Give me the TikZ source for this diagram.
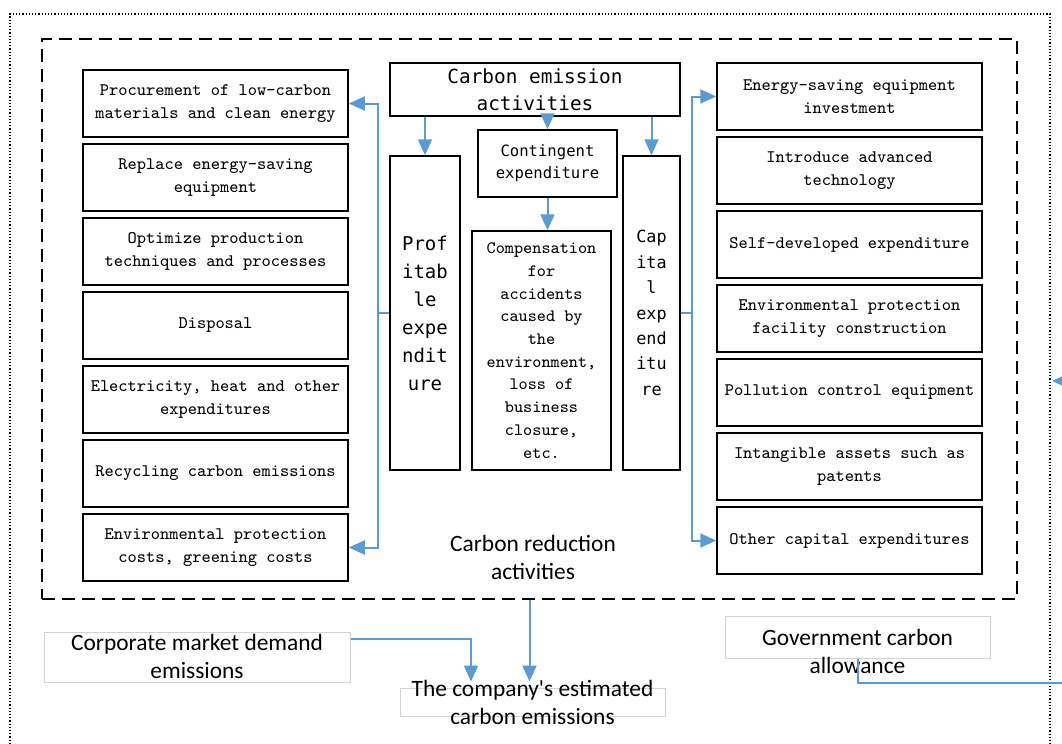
\documentclass[tikz,border=0pt]{standalone}
\usepackage{fontspec}
\usepackage{xcolor}
\usepackage{tikz}
\usetikzlibrary{arrows.meta,positioning}
\newfontfamily\monohei{DejaVu Sans Mono}
\newfontfamily\calib{Carlito}
\definecolor{linkblue}{RGB}{91,155,213}

\begin{document}
\begin{tikzpicture}[
            x = 0.5pt, y = -0.5pt,
            node distance = 2.75pt,
            item/.style = {draw, line width = 0.75pt, minimum width = 132.5pt, minimum height = 33.5pt,
                inner sep = 1pt, align = center, font = \ttfamily\fontsize{8.8}{11.5}\selectfont},
            heibox/.style = {draw, line width = 0.75pt, align = center, inner sep = 1pt},
            softbox/.style = {draw = gray!35, line width = 0.5pt},
            calitext/.style = {align = center, font = \calib\fontsize{11.7}{14}\selectfont},
            bluelink/.style = {draw = linkblue, line width = 1pt, -{Triangle[length = 8pt, width = 7pt]}},
            dashframe/.style = {draw, dash pattern = on 6.5pt off 3.5pt, line width = 0.8pt,
                minimum width = 487.5pt, minimum height = 280pt}]
            \useasboundingbox (0,0) rectangle (1062,744);
            \clip (0,0) rectangle (1062,744);
            % outer dotted border
            \draw[densely dotted, line width = 0.6pt] (10,760) -- (10,14) -- (1050,14) -- (1050,760);
            \node[dashframe] (reduce) at (529.5,319) {};
            % left column
            \node[item] (l1) at (215.5,103.5) {Procurement of low-carbon\\materials and clean energy};
            \node[item, below = of l1] (l2) {Replace energy-saving\\equipment};
            \node[item, below = of l2] (l3) {Optimize production\\techniques and processes};
            \node[item, below = of l3] (l4) {Disposal};
            \node[item, below = of l4] (l5) {Electricity, heat and other\\expenditures};
            \node[item, below = of l5] (l6) {Recycling carbon emissions};
            \node[item, below = of l6] (l7) {Environmental protection\\costs, greening costs};
            % right column
            \node[item] (r1) at (849.5,96.5) {Energy-saving equipment\\investment};
            \node[item, below = of r1] (r2) {Introduce advanced\\technology};
            \node[item, below = of r2] (r3) {Self-developed expenditure};
            \node[item, below = of r3] (r4) {Environmental protection\\facility construction};
            \node[item, below = of r4] (r5) {Pollution control equipment};
            \node[item, below = of r5] (r6) {Intangible assets such as\\patents};
            \node[item, below = of r6] (r7) {Other capital expenditures};
            % middle
            \node[heibox, minimum width = 145pt, minimum height = 26.5pt,
                font = \monohei\fontsize{9.7}{13.5}\selectfont] (emit) at (535,89.5) {Carbon emission\\activities};
            \node[heibox, minimum width = 35pt, minimum height = 157pt,
                font = \monohei\fontsize{9.5}{14}\selectfont] (profit) at (425,313) {Prof\\itab\\le\\expe\\ndit\\ure};
            \node[heibox, minimum width = 28.5pt, minimum height = 157pt,
                font = \monohei\fontsize{8.4}{12.7}\selectfont] (capex) at (651.5,313) {Cap\\ita\\l\\exp\\end\\itu\\re};
            \node[heibox, minimum width = 69.5pt, minimum height = 33.5pt,
                font = \monohei\fontsize{7.8}{11}\selectfont] (contin) at (547.5,163.5) {Contingent\\expenditure};
            \node[heibox, minimum width = 69.5pt, minimum height = 119.5pt,
                font = \ttfamily\fontsize{8.7}{11.35}\selectfont] (comp) at (541.5,350.5)
                {Compensation\\for\\accidents\\caused by\\the\\environment,\\loss of\\business\\closure,\\etc.};
            \node[calitext] (reducetxt) at (533,557) {Carbon reduction\\activities};
            % bottom
            \node[softbox, minimum width = 153pt, minimum height = 25pt] (market) at (197,657) {};
            \node[calitext] (markettxt) at (197,656) {Corporate market demand\\emissions};
            \node[softbox, minimum width = 132.5pt, minimum height = 14pt] (estim) at (532.5,702) {};
            \node[calitext] (estimtxt) at (532.5,702) {The company\textquotesingle s estimated\\carbon emissions};
            \node[softbox, minimum width = 132.5pt, minimum height = 21pt] (govt) at (857.5,637) {};
            \node[calitext] (govttxt) at (857.5,651) {Government carbon\\allowance};
            % connectors
            \draw[bluelink] (emit.south -| profit.north) -- (profit.north);
            \draw[bluelink] (emit.south -| contin.north) -- (contin.north);
            \draw[bluelink] (emit.south -| capex.north) -- (capex.north);
            \draw[bluelink] (contin.south) -- (contin.south |- comp.north);
            \coordinate (lfork) at (378,313);
            \draw[bluelink] (profit.west) -- (lfork) |- (l1.east);
            \draw[bluelink] (lfork) |- (l7.east);
            \coordinate (rfork) at (692,313);
            \draw[bluelink] (capex.east) -- (rfork) |- (r1.west);
            \draw[bluelink] (rfork) |- (r7.west);
            \draw[bluelink, shorten > = 3pt] (reduce.south) -- (reduce.south |- estim.north);
            \draw[bluelink] ([yshift = 9pt]market.east) -| ([xshift = -30.75pt, yshift = 3pt]estim.north);
            % allowance line leaves the picture on the right
            \coordinate (gbend) at (1080,683);
            \coordinate (gin) at (1052,381);
            \draw[bluelink] (govt.south) |- (gbend) |- (gin);
\end{tikzpicture}
\end{document}
